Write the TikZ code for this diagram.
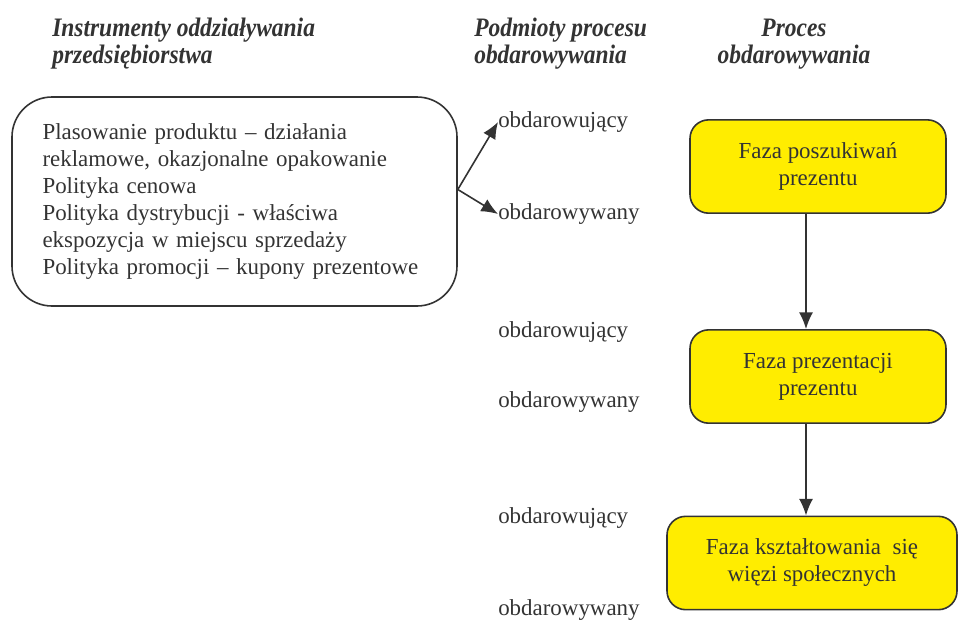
\documentclass[tikz,border=0pt]{standalone}
\usepackage{fontspec}
\setmainfont{Liberation Serif}
\newfontfamily\headfont{Liberation Serif}[FakeStretch=0.88]
\usetikzlibrary{arrows.meta,calc}
\definecolor{ink}{RGB}{51,51,51}
\definecolor{phaseyellow}{RGB}{255,237,0}
\tikzset{
  head/.style={font=\headfont\fontsize{20}{20.25}\selectfont\bfseries\itshape, text=ink, align=left, inner sep=0pt},
  body/.style={font=\fontsize{17.2}{20.25}\selectfont, text=ink},
  party/.style={body, anchor=west, inner sep=0pt},
  toolbox/.style={body, draw=ink, line width=1.2pt, rounded corners=30pt, align=left,
    text width=288pt, inner xsep=22.5pt, minimum width=333.75pt, minimum height=156.75pt},
  phase/.style={body, draw=ink, fill=phaseyellow, line width=1.2pt, rounded corners=14pt,
    align=center, minimum height=70pt},
  flow/.style={-{Latex[length=12.5pt,width=10.5pt]}, draw=ink, line width=1.2pt}
}
\begin{document}
\begin{tikzpicture}[x=0.75pt,y=-0.75pt, line join=round]
  \useasboundingbox (0,0) rectangle (960,622);
  % headings
  \node[head, anchor=west] (hTools) at (52,44) {Instrumenty oddziaływania\\przedsiębiorstwa};
  \node[head, anchor=west] (hParties) at (474,44) {Podmioty procesu\\obdarowywania};
  \node[head, align=center] (hProcess) at (794,44) {Proces\\obdarowywania};
  % instruments
  \node[toolbox] (tools) at (234.5,201.5) {Plasowanie produktu – działania\\
    reklamowe, okazjonalne opakowanie\\
    Polityka cenowa\\
    Polityka dystrybucji - właściwa\\
    ekspozycja w miejscu sprzedaży\\
    Polityka promocji – kupony prezentowe};
  % parties
  \node[party] (giverA) at (498,122) {obdarowujący};
  \node[party] (takerA) at (498,214) {obdarowywany};
  \node[party] (giverB) at (498,332) {obdarowujący};
  \node[party] (takerB) at (498,402) {obdarowywany};
  \node[party] (giverC) at (498,518) {obdarowujący};
  \node[party] (takerC) at (498,610) {obdarowywany};
  \coordinate (fork) at ($(tools.east)+(0,-12)$);
  \draw[flow] (fork) -- (giverA.west);
  \draw[flow] (fork) -- (takerA.west);
  % phases
  \node[phase, minimum width=192pt] (search) at (818,166.5) {Faza poszukiwań\\prezentu};
  \node[phase, minimum width=192pt] (present) at (818,376.5) {Faza prezentacji\\prezentu};
  \node[phase, minimum width=217.5pt] (bond) at (812,563) {Faza kształtowania\ \ się\\więzi społecznych};
  \coordinate (axis) at (806,0);
  \draw[flow] (search.south -| axis) -- (present.north -| axis);
  \draw[flow] (present.south -| axis) -- (bond.north -| axis);
\end{tikzpicture}
\end{document}
